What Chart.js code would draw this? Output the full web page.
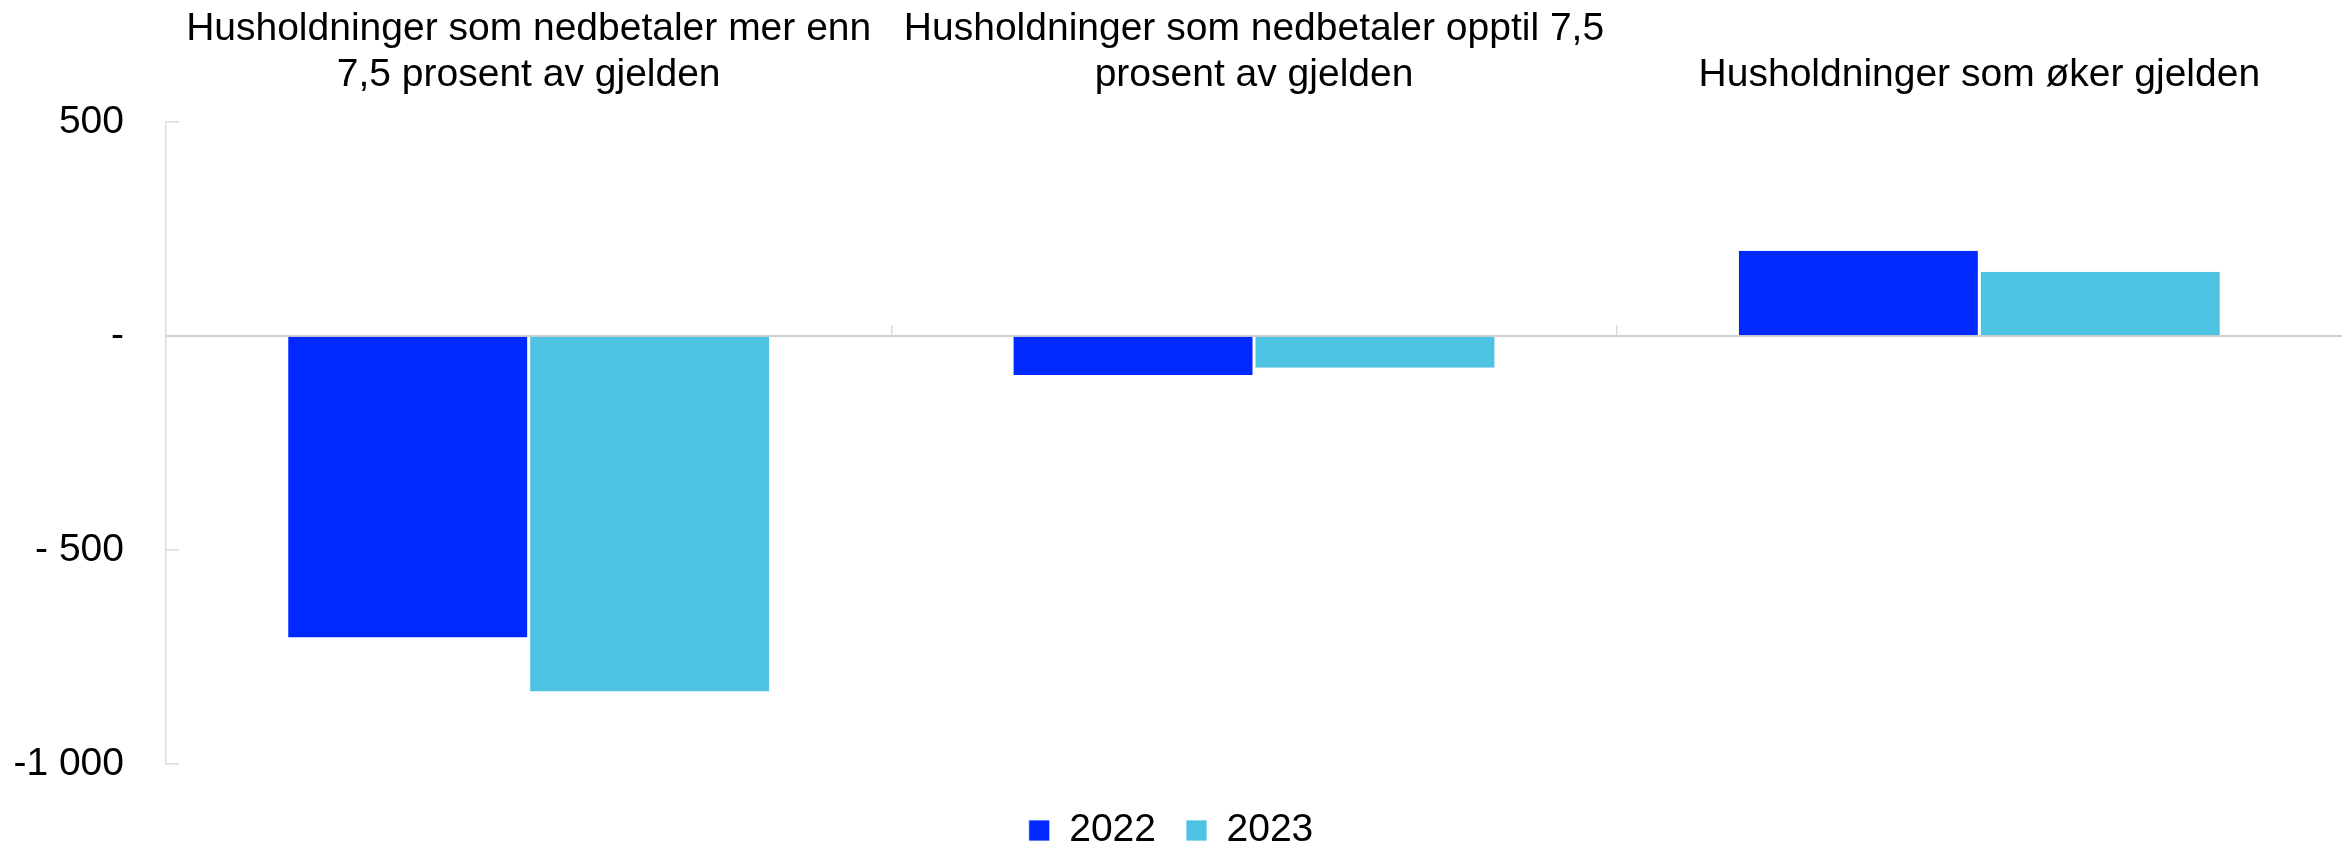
<!DOCTYPE html>
<html lang="no">
<head>
<meta charset="utf-8">
<title>Husholdninger og gjeld</title>
<script src="https://cdn.jsdelivr.net/npm/chart.js@4/dist/chart.umd.min.js"></script>
<style>
  html, body { margin: 0; padding: 0; background: #fff; }
  #wrap { width: 2342px; height: 848px; }
</style>
</head>
<body>
<div id="wrap"><canvas id="chart" width="2342" height="848"></canvas></div>
<script>
// Kategorier (flerlinjede etiketter)
const categories = [
    ['Husholdninger som nedbetaler mer enn', '7,5 prosent av gjelden'],
    ['Husholdninger som nedbetaler opptil 7,5', 'prosent av gjelden'],
    'Husholdninger som øker gjelden'
];

// Serier
const seriesNames = ['2022', '2023'];
const values2022 = [-704, -91, 199];
const values2023 = [-830, -74, 150];

// Y-akse
const yTickValues = [500, 0, -500, -1000];
const yTickLabels = ['500', '-', '- 500', '-1 000'];

const colors = ['#0028ff', '#4ec2e3'];
const fontFamily = "'Liberation Sans', Arial, sans-serif";
const axisGrey = '#cfcfcf';

Chart.defaults.font.family = fontFamily;
Chart.defaults.color = '#000';

function initChart() {
    const ctx = document.getElementById('chart').getContext('2d');

    new Chart(ctx, {
        type: 'bar',
        data: {
            labels: categories,
            datasets: [values2022, values2023].map((vals, i) => ({
                label: seriesNames[i],
                data: vals,
                backgroundColor: colors[i],
                borderColor: '#ffffff',
                borderWidth: { left: 1.5, right: 1.5, top: 0, bottom: 0 },
                borderSkipped: false,
                categoryPercentage: 0.667,
                barPercentage: 1
            }))
        },
        options: {
            responsive: false,
            devicePixelRatio: 1,
            animation: false,
            layout: { padding: { top: 0, left: 0, right: 0, bottom: -12 } },
            plugins: {
                tooltip: { enabled: false },
                legend: {
                    position: 'bottom',
                    title: { display: true, text: '', padding: 0, font: { size: 14 } },
                    labels: {
                        font: { size: 39 },
                        boxWidth: 21,
                        boxHeight: 21,
                        padding: 30
                    }
                }
            },
            scales: {
                x: {
                    position: 'top',
                    offset: true,
                    grid: { display: false },
                    border: { display: false },
                    ticks: {
                        font: { size: 39 },
                        padding: 15,
                        maxRotation: 0,
                        autoSkip: false
                    },
                    afterFit: s => { s.height = 122; }
                },
                x2: {
                    type: 'category',
                    position: { y: 0 },
                    offset: true,
                    ticks: { display: false },
                    grid: {
                        offset: true,
                        drawOnChartArea: false,
                        drawTicks: true,
                        tickLength: -12,
                        lineWidth: 1.5,
                        // bare skillelinjene mellom kategoriene
                        color: c => (c.type !== 'tick' || c.index === 0) ? 'rgba(0,0,0,0)' : '#dddddd'
                    },
                    border: { display: true, color: axisGrey, width: 2 }
                },
                y: {
                    min: -1000,
                    max: 500,
                    ticks: {
                        stepSize: 500,
                        font: { size: 39 },
                        padding: 55,
                        callback: v => {
                            const i = yTickValues.indexOf(v);
                            return i >= 0 ? yTickLabels[i] : '';
                        }
                    },
                    grid: {
                        drawOnChartArea: false,
                        drawTicks: true,
                        tickLength: -13,
                        lineWidth: 1.5,
                        color: '#dddddd'
                    },
                    border: { display: true, color: '#dddddd', width: 1.5 },
                    afterFit: s => { s.width = 166; }
                }
            }
        }
    });
}

initChart();
</script>
</body>
</html>
